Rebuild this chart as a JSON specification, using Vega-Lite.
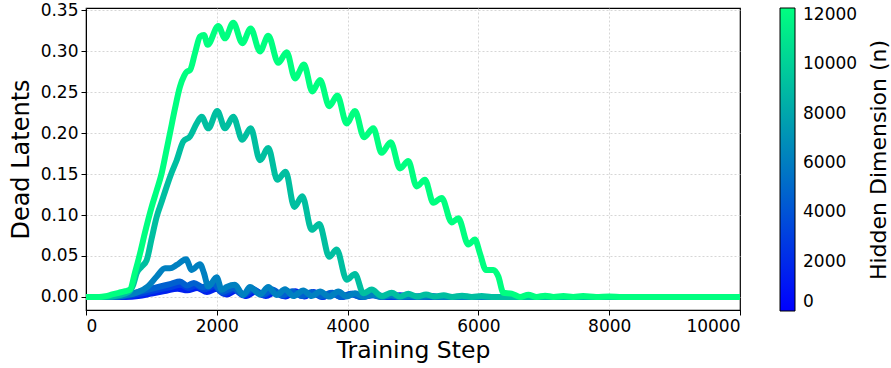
{
  "$schema": "https://vega.github.io/schema/vega-lite/v6.json",
  "width": 654,
  "height": 302,
  "padding": {"left": 9, "top": 1, "right": 0, "bottom": 5},
  "background": "white",
  "config": {
    "font": "DejaVu Sans",
    "view": {"stroke": "black", "strokeWidth": 1.2},
    "axis": {
      "labelFont": "DejaVu Sans", "titleFont": "DejaVu Sans",
      "labelFontSize": 17, "titleFontWeight": "normal",
      "labelColor": "black", "titleColor": "black",
      "domainColor": "black", "tickColor": "black", "tickSize": 5,
      "gridColor": "#cccccc", "gridDash": [2, 2], "gridWidth": 0.8
    },
    "legend": {"labelFont": "DejaVu Sans", "titleFont": "DejaVu Sans"}
  },
  "datasets": {
    "runs": [
      {"n":1536,"step":0,"v":0},{"n":1536,"step":600,"v":0},{"n":1536,"step":800,"v":0.001},{"n":1536,"step":1000,"v":0.004},{"n":1536,"step":1200,"v":0.007},{"n":1536,"step":1400,"v":0.010},{"n":1536,"step":1550,"v":0.008},{"n":1536,"step":1700,"v":0.011},{"n":1536,"step":1850,"v":0.006},{"n":1536,"step":2000,"v":0.010},{"n":1536,"step":2150,"v":0.003},{"n":1536,"step":2300,"v":0.008},{"n":1536,"step":2450,"v":0.001},{"n":1536,"step":2600,"v":0.007},{"n":1536,"step":2750,"v":0.001},{"n":1536,"step":2900,"v":0.006},{"n":1536,"step":3050,"v":0.0005},{"n":1536,"step":3200,"v":0.007},{"n":1536,"step":3340,"v":0.0005},{"n":1536,"step":3480,"v":0.006},{"n":1536,"step":3620,"v":0},{"n":1536,"step":3770,"v":0.005},{"n":1536,"step":3920,"v":0},{"n":1536,"step":4070,"v":0.004},{"n":1536,"step":4220,"v":0},{"n":1536,"step":4400,"v":0.003},{"n":1536,"step":4600,"v":0},{"n":1536,"step":4800,"v":0.002},{"n":1536,"step":5000,"v":0},{"n":1536,"step":5200,"v":0.0015},{"n":1536,"step":5400,"v":0},{"n":1536,"step":10000,"v":0},

      {"n":3072,"step":0,"v":0},{"n":3072,"step":500,"v":0},{"n":3072,"step":700,"v":0.002},{"n":3072,"step":900,"v":0.005},{"n":3072,"step":1100,"v":0.009},{"n":3072,"step":1300,"v":0.012},{"n":3072,"step":1450,"v":0.015},{"n":3072,"step":1560,"v":0.011},{"n":3072,"step":1680,"v":0.014},{"n":3072,"step":1800,"v":0.009},{"n":3072,"step":1960,"v":0.013},{"n":3072,"step":2100,"v":0.004},{"n":3072,"step":2260,"v":0.009},{"n":3072,"step":2410,"v":0.002},{"n":3072,"step":2560,"v":0.008},{"n":3072,"step":2710,"v":0.002},{"n":3072,"step":2860,"v":0.007},{"n":3072,"step":3010,"v":0.001},{"n":3072,"step":3160,"v":0.006},{"n":3072,"step":3310,"v":0.001},{"n":3072,"step":3460,"v":0.005},{"n":3072,"step":3610,"v":0},{"n":3072,"step":3760,"v":0.004},{"n":3072,"step":3910,"v":0},{"n":3072,"step":4060,"v":0.003},{"n":3072,"step":4210,"v":0},{"n":3072,"step":4400,"v":0.002},{"n":3072,"step":4600,"v":0},{"n":3072,"step":10000,"v":0},

      {"n":4608,"step":0,"v":0},{"n":4608,"step":400,"v":0},{"n":4608,"step":600,"v":0.002},{"n":4608,"step":800,"v":0.006},{"n":4608,"step":1000,"v":0.010},{"n":4608,"step":1150,"v":0.013},{"n":4608,"step":1300,"v":0.016},{"n":4608,"step":1437,"v":0.0187},{"n":4608,"step":1550,"v":0.014},{"n":4608,"step":1650,"v":0.017},{"n":4608,"step":1780,"v":0.012},{"n":4608,"step":1950,"v":0.016},{"n":4608,"step":2080,"v":0.006},{"n":4608,"step":2250,"v":0.011},{"n":4608,"step":2400,"v":0.003},{"n":4608,"step":2550,"v":0.010},{"n":4608,"step":2700,"v":0.003},{"n":4608,"step":2850,"v":0.009},{"n":4608,"step":3000,"v":0.002},{"n":4608,"step":3150,"v":0.007},{"n":4608,"step":3300,"v":0.001},{"n":4608,"step":3450,"v":0.006},{"n":4608,"step":3600,"v":0.001},{"n":4608,"step":3750,"v":0.005},{"n":4608,"step":3900,"v":0},{"n":4608,"step":4050,"v":0.004},{"n":4608,"step":4200,"v":0},{"n":4608,"step":4350,"v":0.003},{"n":4608,"step":4500,"v":0},{"n":4608,"step":4650,"v":0.002},{"n":4608,"step":4800,"v":0},{"n":4608,"step":10000,"v":0},

      {"n":6144,"step":0,"v":0},{"n":6144,"step":400,"v":0},{"n":6144,"step":600,"v":0.002},{"n":6144,"step":800,"v":0.006},{"n":6144,"step":950,"v":0.013},{"n":6144,"step":1081,"v":0.025},{"n":6144,"step":1208,"v":0.035},{"n":6144,"step":1284,"v":0.035},{"n":6144,"step":1387,"v":0.039},{"n":6144,"step":1529,"v":0.046},{"n":6144,"step":1616,"v":0.033},{"n":6144,"step":1743,"v":0.040},{"n":6144,"step":1804,"v":0.029},{"n":6144,"step":1870,"v":0.0126},{"n":6144,"step":1998,"v":0.024},{"n":6144,"step":2075,"v":0.0086},{"n":6144,"step":2150,"v":0.012},{"n":6144,"step":2278,"v":0.0147},{"n":6144,"step":2405,"v":0.0024},{"n":6144,"step":2508,"v":0.012},{"n":6144,"step":2661,"v":0.003},{"n":6144,"step":2787,"v":0.012},{"n":6144,"step":2916,"v":0.0024},{"n":6144,"step":3043,"v":0.0094},{"n":6144,"step":3170,"v":0.001},{"n":6144,"step":3323,"v":0.0077},{"n":6144,"step":3451,"v":0.001},{"n":6144,"step":3578,"v":0.0065},{"n":6144,"step":3720,"v":0.0004},{"n":6144,"step":3858,"v":0.0065},{"n":6144,"step":3986,"v":0.0005},{"n":6144,"step":4113,"v":0.0045},{"n":6144,"step":4250,"v":0},{"n":6144,"step":4380,"v":0.003},{"n":6144,"step":4520,"v":0},{"n":6144,"step":4670,"v":0.002},{"n":6144,"step":4800,"v":0},{"n":6144,"step":4950,"v":0.0015},{"n":6144,"step":5100,"v":0},{"n":6144,"step":5250,"v":0.001},{"n":6144,"step":5400,"v":0},{"n":6144,"step":10000,"v":0},

      {"n":9216,"step":0,"v":0},{"n":9216,"step":300,"v":0},{"n":9216,"step":500,"v":0.002},{"n":9216,"step":650,"v":0.006},{"n":9216,"step":723,"v":0.015},{"n":9216,"step":775,"v":0.029},{"n":9216,"step":850,"v":0.037},{"n":9216,"step":928,"v":0.045},{"n":9216,"step":1000,"v":0.07},{"n":9216,"step":1081,"v":0.098},{"n":9216,"step":1160,"v":0.117},{"n":9216,"step":1234,"v":0.135},{"n":9216,"step":1310,"v":0.152},{"n":9216,"step":1387,"v":0.167},{"n":9216,"step":1488,"v":0.190},{"n":9216,"step":1590,"v":0.196},{"n":9216,"step":1693,"v":0.212},{"n":9216,"step":1769,"v":0.220},{"n":9216,"step":1870,"v":0.206},{"n":9216,"step":2008,"v":0.227},{"n":9216,"step":2125,"v":0.206},{"n":9216,"step":2252,"v":0.220},{"n":9216,"step":2390,"v":0.192},{"n":9216,"step":2518,"v":0.206},{"n":9216,"step":2661,"v":0.167},{"n":9216,"step":2787,"v":0.182},{"n":9216,"step":2925,"v":0.143},{"n":9216,"step":3053,"v":0.153},{"n":9216,"step":3185,"v":0.110},{"n":9216,"step":3307,"v":0.123},{"n":9216,"step":3451,"v":0.082},{"n":9216,"step":3567,"v":0.089},{"n":9216,"step":3720,"v":0.049},{"n":9216,"step":3833,"v":0.058},{"n":9216,"step":3986,"v":0.021},{"n":9216,"step":4113,"v":0.028},{"n":9216,"step":4241,"v":0.0045},{"n":9216,"step":4368,"v":0.009},{"n":9216,"step":4521,"v":0.001},{"n":9216,"step":4674,"v":0.005},{"n":9216,"step":4801,"v":0.0004},{"n":9216,"step":4928,"v":0.004},{"n":9216,"step":5060,"v":0.0005},{"n":9216,"step":5200,"v":0.003},{"n":9216,"step":5330,"v":0.0005},{"n":9216,"step":5470,"v":0.002},{"n":9216,"step":5600,"v":0},{"n":9216,"step":5750,"v":0.0015},{"n":9216,"step":5900,"v":0},{"n":9216,"step":6050,"v":0.001},{"n":9216,"step":6200,"v":0},{"n":9216,"step":10000,"v":0},

      {"n":12288,"step":0,"v":0},{"n":12288,"step":200,"v":0},{"n":12288,"step":300,"v":0.001},{"n":12288,"step":400,"v":0.003},{"n":12288,"step":500,"v":0.005},{"n":12288,"step":600,"v":0.007},{"n":12288,"step":673,"v":0.009},{"n":12288,"step":750,"v":0.03},{"n":12288,"step":826,"v":0.053},{"n":12288,"step":900,"v":0.078},{"n":12288,"step":1004,"v":0.110},{"n":12288,"step":1080,"v":0.13},{"n":12288,"step":1157,"v":0.151},{"n":12288,"step":1220,"v":0.175},{"n":12288,"step":1284,"v":0.200},{"n":12288,"step":1360,"v":0.23},{"n":12288,"step":1437,"v":0.257},{"n":12288,"step":1500,"v":0.27},{"n":12288,"step":1539,"v":0.275},{"n":12288,"step":1590,"v":0.277},{"n":12288,"step":1667,"v":0.298},{"n":12288,"step":1743,"v":0.318},{"n":12288,"step":1804,"v":0.320},{"n":12288,"step":1860,"v":0.308},{"n":12288,"step":2023,"v":0.331},{"n":12288,"step":2125,"v":0.316},{"n":12288,"step":2252,"v":0.335},{"n":12288,"step":2390,"v":0.310},{"n":12288,"step":2518,"v":0.328},{"n":12288,"step":2661,"v":0.300},{"n":12288,"step":2787,"v":0.319},{"n":12288,"step":2940,"v":0.286},{"n":12288,"step":3069,"v":0.299},{"n":12288,"step":3196,"v":0.267},{"n":12288,"step":3333,"v":0.284},{"n":12288,"step":3460,"v":0.251},{"n":12288,"step":3578,"v":0.265},{"n":12288,"step":3720,"v":0.233},{"n":12288,"step":3843,"v":0.246},{"n":12288,"step":3986,"v":0.212},{"n":12288,"step":4113,"v":0.227},{"n":12288,"step":4251,"v":0.195},{"n":12288,"step":4393,"v":0.206},{"n":12288,"step":4521,"v":0.176},{"n":12288,"step":4659,"v":0.189},{"n":12288,"step":4801,"v":0.157},{"n":12288,"step":4928,"v":0.166},{"n":12288,"step":5056,"v":0.135},{"n":12288,"step":5183,"v":0.143},{"n":12288,"step":5311,"v":0.115},{"n":12288,"step":5439,"v":0.121},{"n":12288,"step":5592,"v":0.091},{"n":12288,"step":5693,"v":0.096},{"n":12288,"step":5846,"v":0.064},{"n":12288,"step":5948,"v":0.070},{"n":12288,"step":6024,"v":0.053},{"n":12288,"step":6116,"v":0.033},{"n":12288,"step":6228,"v":0.033},{"n":12288,"step":6305,"v":0.025},{"n":12288,"step":6381,"v":0.005},{"n":12288,"step":6509,"v":0.004},{"n":12288,"step":6636,"v":0},{"n":12288,"step":6764,"v":0.0025},{"n":12288,"step":6891,"v":0},{"n":12288,"step":7020,"v":0.0015},{"n":12288,"step":7150,"v":0},{"n":12288,"step":7300,"v":0.001},{"n":12288,"step":7450,"v":0},{"n":12288,"step":7600,"v":0.001},{"n":12288,"step":7800,"v":0},{"n":12288,"step":8000,"v":0.0005},{"n":12288,"step":8200,"v":0},{"n":12288,"step":10000,"v":0}
    ]
  },
  "data": {"name": "runs"},
  "mark": {"type": "line", "strokeWidth": 6, "strokeCap": "round", "strokeJoin": "round", "interpolate": "monotone", "clip": true},
  "encoding": {
    "x": {
      "field": "step", "type": "quantitative", "title": "Training Step",
      "scale": {"domain": [0, 10000], "nice": false},
      "axis": {
        "values": [0, 2000, 4000, 6000, 8000, 10000], "format": "d", "titleFontSize": 23.5, "titlePadding": 4, "labelPadding": 3,
        "gridOpacity": {"condition": {"test": "datum.value === 10000", "value": 0}, "value": 1}
      }
    },
    "y": {
      "field": "v", "type": "quantitative", "title": "Dead Latents",
      "scale": {"domain": [-0.016, 0.353], "nice": false, "zero": false},
      "axis": {"values": [0, 0.05, 0.1, 0.15, 0.2, 0.25, 0.3, 0.35], "format": ".2f", "titleFontSize": 24, "titlePadding": 7, "labelPadding": 3}
    },
    "color": {
      "field": "n", "type": "quantitative",
      "scale": {"domain": [0, 12288], "range": ["#0000ff", "#00ff80"], "interpolate": "rgb", "nice": false, "zero": false},
      "legend": {
        "title": "Hidden Dimension (n)",
        "titleOrient": "right", "titleFontSize": 22, "titleFontWeight": "normal", "titleColor": "black",
        "titleAnchor": "middle", "titleLimit": 400, "titlePadding": 6,
        "encode": {"title": {"update": {"angle": {"value": -90}, "baseline": {"value": "bottom"}, "dy": {"value": 28}}}},
        "values": [0, 2000, 4000, 6000, 8000, 10000, 12000], "format": "d",
        "labelFontSize": 17, "labelColor": "black", "labelOffset": 8,
        "gradientLength": 303, "gradientThickness": 15,
        "gradientStrokeColor": "black", "gradientStrokeWidth": 1,
        "offset": 40, "padding": 0
      }
    },
    "order": {"field": "step", "type": "quantitative"}
  }
}
